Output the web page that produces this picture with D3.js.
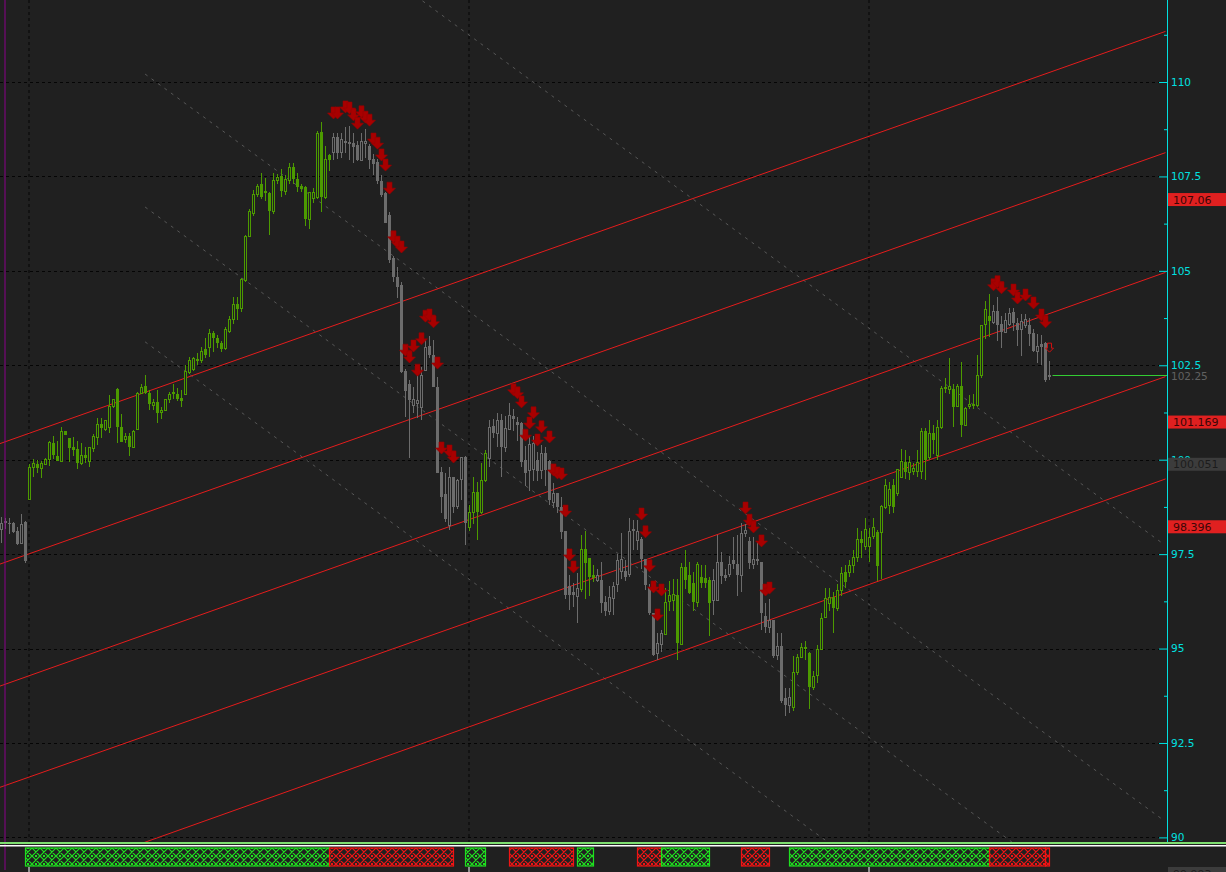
<!DOCTYPE html>
<html><head><meta charset="utf-8">
<script src="https://cdn.jsdelivr.net/npm/d3@7"></script>
<style>html,body{margin:0;padding:0;background:#202020;overflow:hidden}svg{display:block}</style>
</head><body><svg id="c" width="1226" height="872"></svg>
<script>
// ---- candle data (index 0..262) ----
const opens=[98.17,98.35,98.33,98.33,98.11,97.80,98.36,98.95,99.80,99.89,99.77,99.90,100.03,100.43,100.10,99.96,100.77,100.58,100.33,100.28,99.92,100.12,99.96,100.31,100.60,100.94,100.82,100.86,101.42,101.86,100.87,100.57,100.64,100.34,100.80,101.76,101.95,101.77,101.47,101.53,101.25,101.30,101.60,101.78,101.75,101.63,101.72,102.32,102.41,102.66,102.64,102.92,102.98,103.35,103.22,103.08,102.98,103.40,103.72,104.12,104.00,104.76,105.94,106.52,107.05,107.30,107.12,107.07,106.58,107.39,107.51,107.11,107.41,107.76,107.42,107.25,107.22,106.38,106.95,106.96,108.68,106.96,108.06,108.13,108.55,108.15,108.41,108.41,108.38,108.32,107.95,108.40,108.30,107.95,107.88,107.39,107.05,106.49,105.34,104.84,104.63,102.36,102.00,101.45,101.50,101.40,102.39,103.01,102.77,101.93,99.68,99.09,98.27,99.55,98.76,99.51,100.08,98.23,98.62,99.15,98.62,99.46,100.06,100.89,100.70,101.05,100.34,100.81,101.16,101.01,100.98,99.98,99.73,99.73,99.99,99.73,100.17,99.97,98.89,99.13,98.76,98.12,96.66,96.51,96.39,96.57,97.63,97.39,96.95,96.83,96.81,96.24,96.00,96.33,96.71,97.04,97.06,96.95,98.16,97.87,97.89,97.36,96.64,95.93,94.87,95.12,95.40,96.27,96.29,96.42,95.12,97.15,96.95,96.73,96.24,96.90,96.86,96.81,96.29,96.30,97.30,96.95,96.99,97.34,97.24,96.95,98.06,97.85,97.24,97.36,97.30,95.86,95.58,95.76,94.82,95.07,93.68,93.50,93.46,94.39,94.78,95.05,94.89,93.97,94.30,94.98,95.83,96.21,96.36,96.07,96.55,97.03,97.03,97.21,97.41,97.89,97.70,97.71,97.96,98.09,98.09,98.76,98.80,99.33,99.11,99.55,99.95,99.68,99.68,99.71,99.71,100.77,100.06,100.70,100.12,100.86,101.92,101.86,101.86,101.42,101.95,100.92,101.42,101.45,101.45,102.24,103.57,103.80,103.65,103.94,103.59,103.39,103.61,103.92,103.61,103.48,103.57,103.57,103.36,102.89,103.06,103.08,102.22];
const highs=[98.49,98.46,98.46,98.36,98.23,98.56,98.38,99.89,100.02,100.00,99.97,100.05,100.50,100.64,100.50,100.86,100.77,100.58,100.60,100.50,100.45,100.33,100.33,100.69,101.10,101.10,101.05,101.70,101.62,101.90,101.22,100.70,100.70,100.79,101.80,102.00,102.23,101.85,101.60,101.85,101.40,101.62,101.80,102.00,101.90,101.85,102.50,102.72,102.73,102.82,102.98,103.22,103.47,103.40,103.30,103.15,103.52,103.80,104.31,104.30,104.82,105.95,106.65,107.15,107.30,107.58,107.45,107.10,107.60,107.56,107.70,107.55,107.85,107.85,107.60,107.30,107.25,107.10,107.20,108.70,108.95,108.30,108.10,108.66,108.66,108.66,108.80,108.84,108.65,108.45,108.66,108.75,108.35,108.10,107.95,107.55,107.10,106.55,105.40,105.11,104.70,102.40,102.11,101.93,102.37,102.46,103.17,103.27,103.17,102.20,99.81,99.64,99.81,99.55,99.50,100.08,100.10,98.80,99.55,99.40,99.91,100.27,101.05,101.07,101.23,101.20,101.15,101.50,101.35,101.12,101.00,100.37,100.61,100.64,100.20,100.38,100.33,100.00,99.37,99.13,99.00,98.12,96.95,96.73,96.99,98.00,98.10,97.40,97.20,97.10,97.30,96.40,96.65,96.75,97.50,98.05,97.35,98.46,98.40,98.40,97.95,97.36,96.70,95.93,95.40,95.50,96.60,96.80,96.85,96.85,97.27,97.60,97.30,97.03,97.30,97.20,97.20,96.90,97.10,98.01,97.55,97.10,97.45,97.95,98.00,98.33,98.30,97.95,97.95,97.85,97.30,96.20,96.30,95.76,95.40,95.40,93.95,93.95,94.80,94.85,95.15,95.20,94.90,94.40,95.10,95.95,96.60,96.60,96.50,96.70,97.15,97.20,97.35,97.60,98.20,98.10,98.45,98.20,98.45,98.15,98.80,99.50,99.40,99.50,99.75,100.28,100.25,100.10,99.90,100.25,100.83,100.83,101.05,100.92,101.05,101.95,102.15,102.70,102.00,102.00,102.58,101.40,101.70,101.75,102.77,103.57,104.20,104.38,104.10,104.31,103.80,103.89,104.02,104.02,103.75,103.85,103.85,103.75,103.45,103.33,103.31,103.12,102.60];
const lows=[97.80,98.17,98.03,98.05,97.73,97.78,97.26,98.95,99.55,99.66,99.52,99.85,99.83,100.03,99.96,99.96,100.66,99.95,100.10,99.75,99.87,99.90,99.80,100.20,100.40,100.58,100.76,100.70,101.36,100.45,100.47,100.45,100.10,100.30,100.78,101.74,101.74,101.32,101.32,100.98,101.07,101.28,101.50,101.60,101.55,101.40,101.70,102.28,102.36,102.50,102.57,102.70,102.73,102.85,102.95,102.85,102.90,103.35,103.60,103.70,103.90,104.70,105.90,106.45,106.95,106.90,106.85,105.95,106.50,107.30,106.95,107.00,107.30,107.30,107.10,107.10,106.20,106.10,106.80,106.90,106.55,106.90,107.65,107.93,107.95,108.00,108.11,107.93,107.85,107.90,107.90,108.00,107.70,107.55,107.30,106.95,106.26,105.20,104.70,104.27,102.30,101.14,100.04,101.23,101.11,101.05,102.34,102.70,101.93,99.64,98.58,98.36,98.14,98.60,98.70,98.93,97.74,98.10,98.30,97.88,98.55,99.40,99.80,100.57,100.34,99.55,100.21,100.78,100.75,100.50,99.80,99.31,99.18,99.43,99.43,99.50,99.30,98.80,98.73,98.60,97.90,96.30,96.02,96.10,95.67,96.51,96.30,96.40,96.75,96.75,95.93,95.86,95.90,95.90,96.50,96.85,96.80,96.90,97.60,97.60,97.10,96.55,95.90,94.80,94.70,94.90,95.40,96.00,96.00,94.70,95.10,96.57,96.44,96.00,96.10,96.60,96.60,95.34,95.90,96.25,96.70,96.80,96.90,97.10,96.40,96.50,97.95,97.10,97.10,97.20,95.50,95.40,95.40,94.75,94.70,93.55,93.22,93.30,93.35,94.30,94.75,94.70,93.40,93.90,94.10,94.95,95.80,96.00,95.42,96.00,96.40,96.60,96.90,97.00,97.30,97.40,97.60,97.30,97.90,96.80,96.85,98.70,98.55,98.60,99.05,99.55,99.50,99.45,99.60,99.55,99.50,99.45,100.00,100.15,100.00,100.80,101.76,101.75,100.87,101.40,100.60,100.90,101.35,101.35,101.40,102.17,103.20,103.25,103.60,103.15,102.95,103.35,103.55,103.40,103.00,102.75,103.50,103.00,102.85,102.55,102.50,102.07,102.12];
const closes=[98.33,98.37,98.31,98.09,97.77,98.30,97.31,99.80,99.91,99.77,99.91,100.03,100.47,100.13,99.96,100.75,100.66,100.31,100.26,99.92,100.13,100.04,100.33,100.63,100.94,100.84,101.05,101.42,101.60,100.87,100.47,100.64,100.34,100.77,101.76,101.93,101.76,101.47,101.54,101.23,101.31,101.60,101.74,101.76,101.60,101.55,102.34,102.64,102.69,102.62,102.89,102.76,103.35,103.22,103.08,102.94,103.47,103.73,104.12,103.98,104.78,105.92,106.59,107.03,107.25,106.95,107.07,106.58,107.41,107.48,107.12,107.42,107.76,107.42,107.23,107.17,106.38,107.09,107.10,108.65,106.96,107.96,107.93,108.54,108.13,108.50,108.44,108.38,108.29,107.93,108.45,108.45,107.93,107.83,107.39,107.02,106.26,105.29,104.84,104.57,102.32,101.83,101.58,101.61,101.58,102.24,102.99,102.77,101.93,99.64,99.02,98.42,99.55,98.76,99.46,100.08,98.32,98.62,99.15,98.62,99.46,100.17,100.87,100.71,101.04,100.34,100.84,101.18,101.07,100.92,99.95,99.66,100.42,100.43,99.71,100.17,99.73,98.93,99.13,98.76,98.09,96.42,96.42,96.42,96.60,97.63,97.26,96.90,96.86,96.95,96.20,96.00,96.37,96.66,97.34,97.36,96.90,98.10,98.10,98.12,97.36,96.68,95.93,94.82,95.14,95.40,96.24,96.42,96.44,95.14,97.15,96.81,96.48,96.24,97.25,96.73,96.73,96.20,96.81,97.30,96.92,96.86,97.25,97.25,96.95,98.05,98.14,97.26,97.36,97.32,95.93,95.58,95.76,94.80,95.07,93.62,93.50,93.72,94.39,94.78,95.05,95.00,93.97,94.27,94.98,95.80,96.33,96.36,96.07,96.55,96.99,96.77,97.21,97.43,97.89,97.79,98.16,97.96,98.21,97.19,98.77,99.33,99.22,98.76,99.75,99.97,99.68,99.95,99.77,99.95,100.77,99.99,100.70,100.52,100.86,101.89,101.86,101.95,101.40,101.95,100.92,101.36,101.47,101.47,102.24,103.57,103.98,103.68,103.94,103.57,103.39,103.70,103.89,103.61,103.43,103.68,103.72,103.33,102.89,103.01,102.98,102.11,102.25];

// ---- trend strip (lower panel): start/end candle index and state ----
const stripStart=[6,82,116,127,144,159,165,185,197,247,261];
const stripEnd  =[82,113,121,143,148,165,177,192,247,261,262];
const stripType =['up','down','up','down','up','down','up','down','up','down','down'];

// ---- sell-signal arrows: candle index and price ----
const arrowIdx  =[83,84,86,87,88,89,90,91,92,93,94,95,96,97,98,99,100,101,102,103,104,105,106,107,108,109,110,112,113,128,129,130,131,132,133,134,135,137,138,139,140,141,142,143,160,161,162,163,164,165,186,187,188,190,191,192,248,249,250,253,254,256,258,260,261];
const arrowPrice=[109.18,109.18,109.34,109.31,109.13,108.91,109.21,109.07,108.99,108.49,108.38,108.07,107.80,107.19,105.90,105.76,105.63,102.90,102.72,103.01,102.37,103.20,103.80,103.83,103.65,102.56,100.31,100.23,100.07,101.85,101.77,101.53,100.65,100.97,101.24,100.52,100.87,100.60,99.73,99.65,99.62,98.64,97.48,97.16,98.56,98.09,97.19,96.63,95.89,96.55,98.72,98.40,98.22,97.85,96.55,96.60,104.63,104.71,104.55,104.49,104.28,104.36,104.15,103.83,103.65];
const pendingArrow=[262,102.98];

// ---- red parallel channel lines: price at index 0 and index 291 ----
const redIdx=[0,291];
const redP0=[100.44,97.25,94.02,91.34,88.52];
const redP1=[111.34,108.13,104.96,102.20,99.49];

// ---- grey dashed lines: start/end index and price ----
const greyI0=[35.9,35.9,35.9,35.9];
const greyP0=[117.53,110.21,106.69,103.12];
const greyI1=[290.2,290.2,290.2,290.2];
const greyP1=[97.79,90.48,86.96,83.39];

// ---- axis ----
const yMajor=[90,92.5,95,97.5,100,102.5,105,107.5,110];
const yMinor=[91.25,93.75,96.25,98.75,101.25,103.75,106.25,108.75,111.25];
const redTags=[107.06,101.169,98.396];
const greyTags=[100.051];
const lastPrice=102.25;
const sessionIdx=[7,117,217];
const markerIdx=1;
const lastIdx=262;

// ---- layout ----
const W=1226,H=872,axisX=1167,plotBottom=842;
const svg=d3.select('#c');
const x=d3.scaleLinear().domain([0,291]).range([1.5,1165.5]);
const y=d3.scaleLinear().domain([90,110]).range([837.4,82]);
const font='DejaVu Sans, Verdana, sans-serif';

svg.append('rect').attr('width',W).attr('height',H).attr('fill','#202020');
const defs=svg.append('defs');
defs.append('clipPath').attr('id','plot').append('rect').attr('x',0).attr('y',0).attr('width',axisX).attr('height',plotBottom);
function hatch(id,col){
  const p=defs.append('pattern').attr('id',id).attr('width',8).attr('height',8).attr('patternUnits','userSpaceOnUse');
  p.append('path').attr('d','M0,0L8,8M8,0L0,8M-1,7L1,9M7,-1L9,1').attr('stroke',col).attr('stroke-width',1.2).attr('fill','none');
  p.append('rect').attr('x',3).attr('y',0).attr('width',2).attr('height',1).attr('fill',col);
  p.append('rect').attr('x',3).attr('y',7).attr('width',2).attr('height',1).attr('fill',col);
}
hatch('hg','#1fe01f');hatch('hr','#f01414');

const g=svg.append('g').attr('clip-path','url(#plot)');

// gridlines
g.selectAll('line.hg').data(yMajor).join('line')
 .attr('x1',0).attr('x2',axisX-7).attr('y1',d=>Math.round(y(d))+0.5).attr('y2',d=>Math.round(y(d))+0.5)
 .attr('stroke','#050505').attr('stroke-dasharray','3,3');
g.selectAll('line.vg').data(sessionIdx).join('line')
 .attr('x1',d=>x(d)-0.5).attr('x2',d=>x(d)-0.5).attr('y1',0).attr('y2',plotBottom)
 .attr('stroke','#050505').attr('stroke-dasharray','3,3');

// grey dashed
g.selectAll('line.gd').data(greyP0).join('line')
 .attr('x1',(d,i)=>x(greyI0[i])).attr('y1',(d,i)=>y(greyP0[i]))
 .attr('x2',(d,i)=>x(greyI1[i])).attr('y2',(d,i)=>y(greyP1[i]))
 .attr('stroke','#575757').attr('stroke-width',1).attr('stroke-dasharray','3,5');

// red channel lines
g.selectAll('line.rl').data(redP0).join('line')
 .attr('x1',-10).attr('y1',(d,i)=>y(redP0[i]+(redP1[i]-redP0[i])*(x.invert(-10)-redIdx[0])/(redIdx[1]-redIdx[0])))
 .attr('x2',(d,i)=>x(redIdx[1])).attr('y2',(d,i)=>y(redP1[i]))
 .attr('stroke','#e41c1c').attr('stroke-width',1);

// purple marker
svg.append('line').attr('x1',x(markerIdx)-0.5).attr('x2',x(markerIdx)-0.5).attr('y1',0).attr('y2',870)
 .attr('stroke','#8a008a').attr('stroke-width',1);

// candles
const isUp=i=>{for(let k=0;k<stripType.length;k++){if(stripType[k]==='up'&&i>stripStart[k]&&i<=stripEnd[k])return true;}return false;};
const idx=d3.range(closes.length);
const cg=g.append('g').attr('shape-rendering','crispEdges');
cg.selectAll('rect.w').data(idx).join('rect')
 .attr('x',i=>x(i)-0.5).attr('width',1)
 .attr('y',i=>y(Math.max(highs[i],opens[i],closes[i])))
 .attr('height',i=>Math.max(1,y(Math.min(lows[i],opens[i],closes[i]))-y(Math.max(highs[i],opens[i],closes[i]))))
 .attr('fill',i=>isUp(i)?'#4c9a00':'#6c6c6c');
cg.selectAll('rect.b').data(idx).join('rect')
 .each(function(i){
   const col=isUp(i)?'#4c9a00':'#6c6c6c';
   const top=y(Math.max(opens[i],closes[i])), bot=y(Math.min(opens[i],closes[i]));
   const s=d3.select(this);
   if(closes[i]>=opens[i]){
     s.attr('x',x(i)-1).attr('width',2).attr('y',Math.round(top)+0.5).attr('height',Math.max(1,Math.round(bot-top)))
      .attr('fill','#202020').attr('stroke',col).attr('stroke-width',1);
   } else {
     s.attr('x',x(i)-1.5).attr('width',3).attr('y',top).attr('height',Math.max(1.5,bot-top)).attr('fill',col);
   }
 });

// arrows
const arrowPath=(cx,cy)=>`M${cx-2.5},${cy-6}H${cx+2.5}V${cy}H${cx+6}L${cx},${cy+6}L${cx-6},${cy}H${cx-2.5}Z`;
g.selectAll('path.ar').data(arrowIdx).join('path')
 .attr('d',(d,i)=>arrowPath(x(d),y(arrowPrice[i])))
 .attr('fill','#a80000').attr('stroke','#960000').attr('stroke-width',0.6);
g.append('path').attr('d',`M${x(pendingArrow[0])-2},${y(pendingArrow[1])-4}H${x(pendingArrow[0])+2}V${y(pendingArrow[1])+1}H${x(pendingArrow[0])+4}L${x(pendingArrow[0])},${y(pendingArrow[1])+5}L${x(pendingArrow[0])-4},${y(pendingArrow[1])+1}H${x(pendingArrow[0])-2}Z`)
 .attr('fill','none').attr('stroke','#d01010').attr('stroke-width',1);

// last price line
svg.append('line').attr('x1',x(lastIdx)+3).attr('x2',axisX).attr('y1',Math.round(y(lastPrice))+0.5).attr('y2',Math.round(y(lastPrice))+0.5)
 .attr('stroke','#33cc33').attr('stroke-width',1);

// right axis
const ax=svg.append('g').attr('transform',`translate(${axisX},0)`);
ax.call(d3.axisRight(y).tickValues(yMajor).tickSize(-8).tickPadding(4).tickFormat(d=>String(d)));
ax.call(g2=>g2.select('.domain').remove());
ax.selectAll('line').attr('stroke','#00e0e0');
ax.selectAll('text').attr('fill','#00e0e0').style('font-family',font).style('font-size','10.5px');
const axm=svg.append('g').attr('transform',`translate(${axisX},0)`);
axm.call(d3.axisRight(y).tickValues(yMinor).tickSize(-3).tickFormat(''));
axm.select('.domain').remove();
axm.selectAll('line').attr('stroke','#00e0e0');
svg.append('line').attr('x1',axisX+0.5).attr('x2',axisX+0.5).attr('y1',0).attr('y2',plotBottom).attr('stroke','#00e0e0').attr('stroke-width',1);

// price tags
function tag(v,fill,txt){
  svg.append('rect').attr('x',axisX+1).attr('y',y(v)).attr('width',W-axisX-1).attr('height',13).attr('fill',fill);
  svg.append('text').attr('x',axisX+6).attr('y',y(v)+10.5).attr('fill',txt).style('font-family',font).style('font-size','11px').text(String(v));
}
greyTags.forEach(v=>tag(v,'#3c3c3c','#1c1c1c'));
redTags.forEach(v=>tag(v,'#e02020','#3a0606'));
svg.append('text').attr('x',axisX+4).attr('y',y(lastPrice)+5).attr('fill','#606060').style('font-family',font).style('font-size','10.5px').text(String(lastPrice));

// panel separator
svg.append('rect').attr('x',0).attr('y',plotBottom).attr('width',W).attr('height',2).attr('fill','#7ede70');
svg.append('rect').attr('x',0).attr('y',plotBottom+3).attr('width',W).attr('height',1.5).attr('fill','#ffffff');

// lower panel trend strip
svg.selectAll('rect.st').data(stripStart).join('rect')
 .attr('x',(d,i)=>x(stripStart[i])).attr('width',(d,i)=>x(stripEnd[i])-x(stripStart[i]))
 .attr('y',848).attr('height',18)
 .attr('fill',(d,i)=>stripType[i]==='up'?'url(#hg)':'url(#hr)')
 .attr('stroke',(d,i)=>stripType[i]==='up'?'#1fe01f':'#f01414').attr('stroke-width',1.2);
svg.selectAll('line.bt').data(sessionIdx).join('line')
 .attr('x1',d=>x(d)-0.5).attr('x2',d=>x(d)-0.5).attr('y1',867).attr('y2',H).attr('stroke','#ffffff');
svg.append('rect').attr('x',axisX+1).attr('y',867).attr('width',W-axisX-1).attr('height',13).attr('fill','#3c3c3c');
svg.append('text').attr('x',axisX+6).attr('y',877.5).attr('fill','#1c1c1c').style('font-family',font).style('font-size','11px').text('99.993');
</script></body></html>
